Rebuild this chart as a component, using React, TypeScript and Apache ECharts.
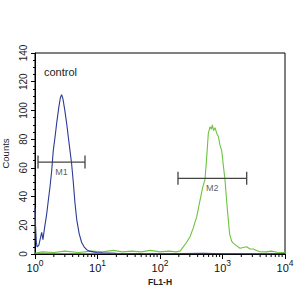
import React, { useEffect, useRef } from "react";
import * as echarts from "echarts";

const xTicks = [1, 10, 100, 1000, 10000];
const yTicks = [0, 20, 40, 60, 80, 100, 120, 140];

const controlCurve: [number, number][] = [
  [1.0, 32], [1.02, 20], [1.05, 8], [1.08, 5], [1.15, 6], [1.22, 11], [1.28, 15], [1.34, 10],
  [1.42, 18], [1.54, 28], [1.64, 38], [1.74, 47], [1.85, 58], [1.96, 72], [2.1, 82], [2.22, 91],
  [2.4, 102], [2.55, 109], [2.67, 111], [2.8, 108], [3.0, 100], [3.21, 91], [3.4, 82], [3.63, 72],
  [3.85, 63], [4.1, 50], [4.35, 36], [4.65, 24], [5.1, 14], [5.58, 8], [6.1, 5], [6.71, 3],
  [7.5, 2], [8.5, 1.5], [9.7, 1], [12, 0.8], [20, 0.5], [50, 0.3], [100, 0.2], [500, 0.5],
  [1000, 0.2], [10000, 0.2],
];

const sampleCurve: [number, number][] = [
  [1, 0.5], [1.3, 1.5], [2, 1], [3, 2], [5, 1], [8, 2], [12, 1.5], [18, 2.5], [25, 1.5], [35, 2],
  [50, 1.5], [70, 2.5], [100, 1.5], [140, 2], [180, 1.5], [209, 2], [236, 5], [265, 8], [302, 12],
  [340, 18], [387, 26], [430, 36], [480, 46], [525, 52], [560, 68], [593, 84], [631, 88.6],
  [665, 87], [687, 90], [720, 86], [759, 88], [810, 84], [857, 82], [910, 76], [971, 72],
  [1030, 62], [1096, 51.5], [1160, 38], [1225, 26], [1300, 14], [1400, 9], [1489, 7.6],
  [1650, 6], [1905, 4], [2150, 4.5], [2438, 5], [2750, 3.5], [3112, 3.5], [3500, 2.5],
  [3981, 1.6], [5000, 1.5], [6000, 2], [7500, 1.2], [10000, 1],
];

const gateNames = ["M1", "M2"];
const gateStart = [1.117, 194];
const gateEnd = [6.31, 2438];
const gateLevel = [64, 52.7];

const minorX: number[] = [];
for (let d = 0; d < 4; d++) {
  for (let k = 2; k <= 9; k++) minorX.push(k * Math.pow(10, d));
}

export default function App() {
  const ref = useRef<HTMLDivElement>(null);
  useEffect(() => {
    const chart = echarts.init(ref.current!, null, { renderer: "svg" });
    const font = "'Liberation Sans', Arial, sans-serif";
    const gateSeries: any[] = [];
    gateNames.forEach((n, i) => {
      gateSeries.push({
        type: "line",
        data: [[gateStart[i], gateLevel[i]], [gateEnd[i], gateLevel[i]]],
        symbol: "rect",
        symbolSize: [1.3, 13],
        itemStyle: { color: "#444" },
        lineStyle: { color: "#444", width: 1.3 },
        z: 5,
      });
      gateSeries.push({
        type: "scatter",
        data: [[Math.sqrt(gateStart[i] * gateEnd[i]), gateLevel[i]]],
        symbolSize: 0,
        label: {
          show: true,
          formatter: n,
          position: "bottom",
          distance: 5,
          fontSize: 9,
          fontFamily: font,
          color: "#333",
        },
        z: 5,
      });
    });
    chart.setOption({
      animation: false,
      grid: {
        left: 35,
        top: 53,
        width: 250,
        height: 201,
        containLabel: false,
        outerBoundsMode: "none",
        show: true,
        borderColor: "#000",
        borderWidth: 1,
        backgroundColor: "transparent",
      },
      xAxis: {
        type: "log",
        logBase: 10,
        min: xTicks[0],
        max: xTicks[xTicks.length - 1],
        name: "FL1-H",
        nameLocation: "middle",
        nameGap: 19,
        nameTextStyle: { fontSize: 8.5, fontWeight: "bold", fontFamily: font, color: "#222" },
        axisLine: { lineStyle: { color: "#000", width: 1 } },
        axisTick: { show: true, length: 5, lineStyle: { color: "#000" } },
        splitLine: { show: false },
        axisLabel: {
          margin: 4,
          fontFamily: font,
          formatter: (v: number) => `{b|10}{s|${Math.round(Math.log10(v))}}`,
          rich: {
            b: { fontSize: 11, color: "#111", fontFamily: font, verticalAlign: "bottom" },
            s: { fontSize: 8.5, color: "#111", fontFamily: font, verticalAlign: "top", padding: [0, 0, 6, 0] },
          },
        },
      },
      yAxis: {
        type: "value",
        min: 0,
        max: 140,
        interval: 20,
        name: "Counts",
        nameLocation: "middle",
        nameRotate: 90,
        nameGap: 19,
        nameTextStyle: { fontSize: 9.5, fontFamily: font, color: "#222" },
        axisLine: { show: true, lineStyle: { color: "#000", width: 1 } },
        axisTick: { show: true, length: 4, lineStyle: { color: "#000" } },
        minorTick: { show: true, splitNumber: 4, length: 2, lineStyle: { color: "#000" } },
        splitLine: { show: false },
        axisLabel: { rotate: 90, margin: 7, fontSize: 10, fontFamily: font, color: "#222" },
      },
      graphic: [
        {
          type: "text",
          left: 44,
          top: 66,
          style: { text: "control", fontSize: 11, fontFamily: font, fill: "#222" },
        },
      ],
      series: [
        {
          type: "line",
          data: sampleCurve,
          showSymbol: false,
          symbol: "none",
          lineStyle: { color: "#6cc43c", width: 1.1 },
          z: 3,
        },
        {
          type: "line",
          data: controlCurve,
          showSymbol: false,
          symbol: "none",
          lineStyle: { color: "#2a3a96", width: 1.1 },
          z: 4,
        },
        ...gateSeries,
        {
          type: "custom",
          data: minorX.map((v) => [v, 0]),
          renderItem: (params: any, api: any) => {
            const p = api.coord([api.value(0), 0]);
            return {
              type: "line",
              shape: { x1: p[0], y1: p[1], x2: p[0], y2: p[1] + 3 },
              style: { stroke: "#000", lineWidth: 1 },
            };
          },
          clip: false,
          z: 6,
        },
      ],
    });
    return () => chart.dispose();
  }, []);
  return (
    <div
      ref={ref}
      style={{ position: "absolute", left: 0, top: 0, width: 305, height: 296, background: "#fff" }}
    />
  );
}
